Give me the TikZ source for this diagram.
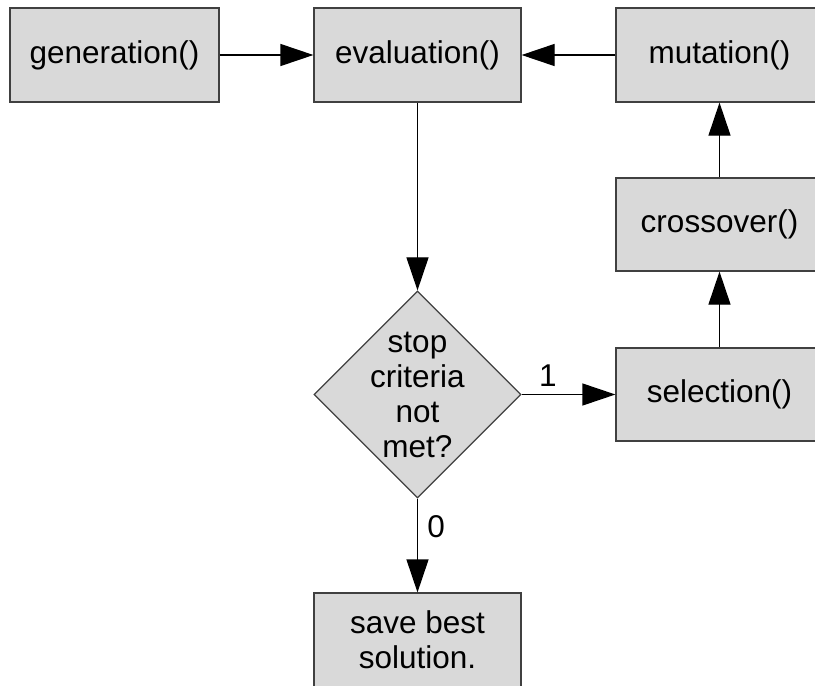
\documentclass[tikz,border=0pt]{standalone}
\usepackage{fontspec}
\setmainfont{Liberation Sans}
\usetikzlibrary{shapes.geometric,arrows.meta}

\begin{document}
\begin{tikzpicture}[
  x=1pt, y=-1pt,
  font=\fontsize{31.5}{35}\selectfont,
  >={Triangle[length=33pt,width=22pt]},
  process/.style={draw=black!75, fill=black!15, line width=1.2pt, minimum width=207pt, minimum height=94pt, inner sep=0pt, align=center},
  decision/.style={diamond, draw=black!75, fill=black!15, line width=1.2pt, minimum width=207pt, minimum height=207pt, inner sep=0pt},
  flow/.style={draw, ->, line width=1.2pt},
]
  \clip (0,0) rectangle (815,686);

  % Top row
  \node[process, minimum width=209pt] (gen) at (114.5,55) {generation()};
  \node[process] (eval) at (417.5,55) {evaluation()};
  \node[process] (mut) at (719.5,55) {mutation()};

  % Right column
  \node[process, minimum height=93pt] (cross) at (719.5,224.5) {crossover()};
  \node[process, minimum height=93pt] (sel) at (719.5,394.5) {selection()};

  % Decision and result
  \node[decision, label={[align=center]center:stop\\criteria\\not\\met?}] (dec) at (417.5,394.5) {};
  \node[process] (save) at (417.5,640) {save best\\solution.};

  % Edges
  \draw[flow] (gen) -- (eval);
  \draw[flow] (mut) -- (eval);
  \draw[flow] (eval) -- (dec);
  \draw[flow] (dec) -- node[pos=0.28, above=4pt] {1} (sel);
  \draw[flow] (dec) -- node[pos=0.3, right=6pt] {0} (save);
  \draw[flow] (sel) -- (cross);
  \draw[flow] (cross) -- (mut);
\end{tikzpicture}
\end{document}
